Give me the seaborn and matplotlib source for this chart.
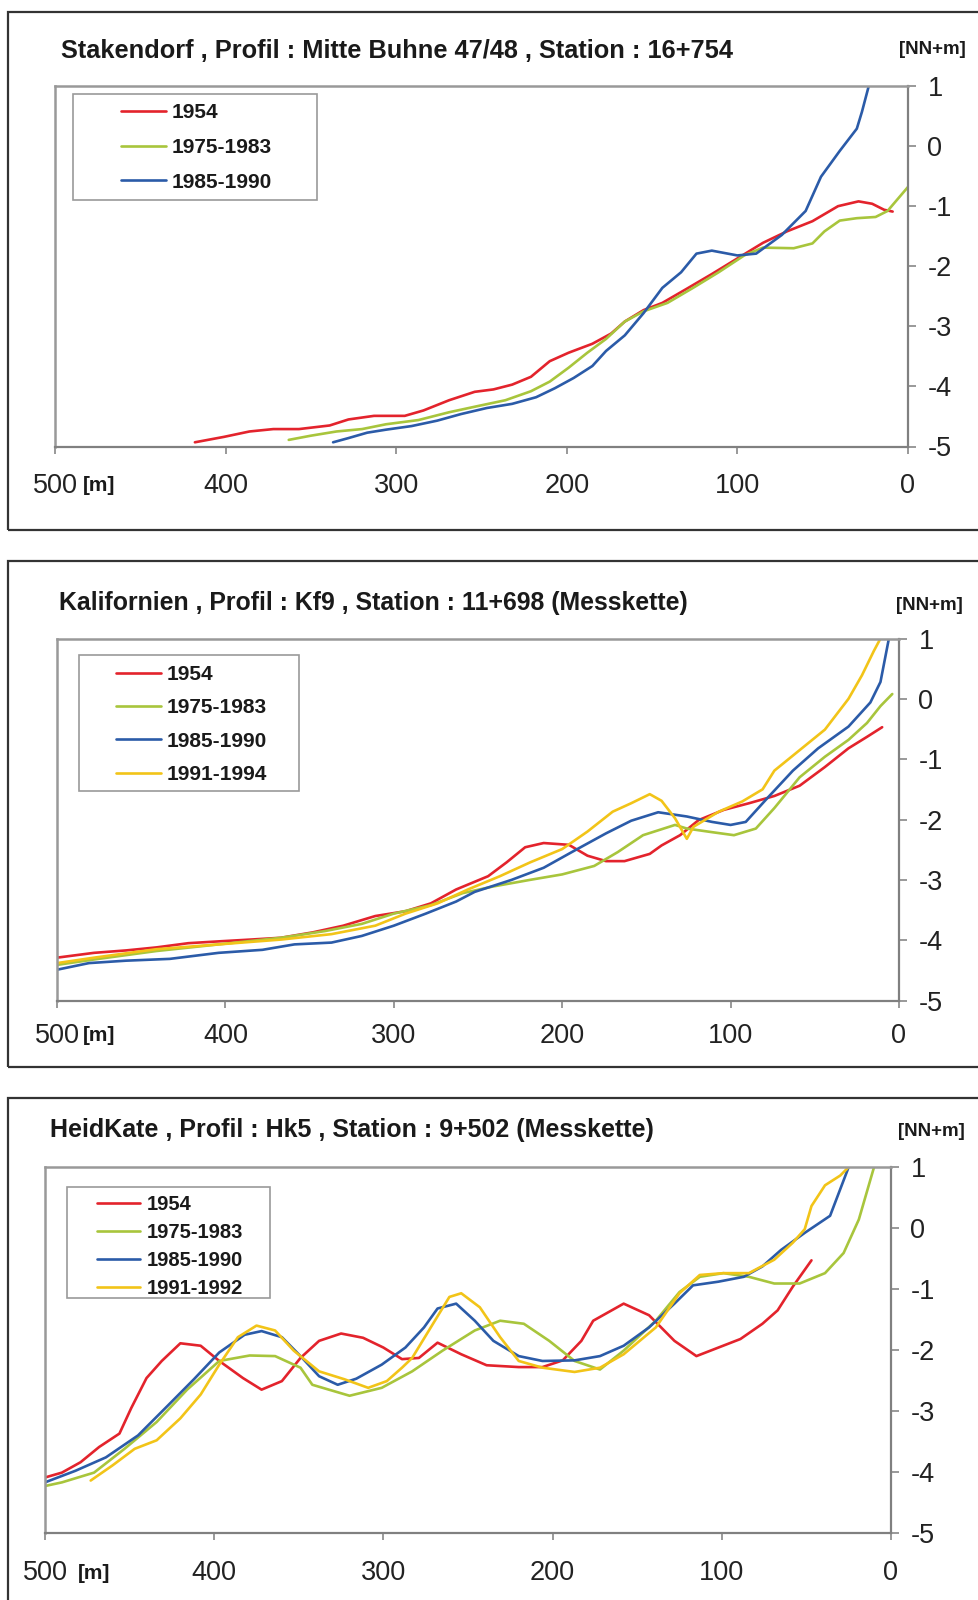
import pandas as pd
import matplotlib.pyplot as plt
import matplotlib.patches as mpatches
import seaborn as sns

W, H = 979, 1600

# ---- panel 1: Stakendorf ----
stak_1954_x = [418, 401, 386, 372, 357, 339, 328, 313, 295, 284, 269, 254, 243, 232, 221, 210, 199, 185,
               174, 166, 155, 144, 130, 115, 100, 85, 71, 56, 41, 29, 21, 14, 9]
stak_1954_y = [-4.93, -4.84, -4.75, -4.71, -4.71, -4.65, -4.55, -4.49, -4.49, -4.40, -4.23, -4.09, -4.05,
               -3.97, -3.84, -3.58, -3.44, -3.29, -3.12, -2.92, -2.73, -2.61, -2.38, -2.13, -1.87, -1.61,
               -1.42, -1.25, -1.00, -0.92, -0.96, -1.06, -1.09]
stak_7583_x = [363, 350, 335, 320, 306, 287, 269, 251, 236, 221, 210, 199, 188, 177, 166, 155, 141, 126,
               111, 96, 85, 67, 56, 49, 40, 30, 19, 12, 0]
stak_7583_y = [-4.89, -4.82, -4.75, -4.71, -4.63, -4.56, -4.43, -4.32, -4.23, -4.08, -3.92, -3.69, -3.44,
               -3.21, -2.92, -2.75, -2.61, -2.36, -2.10, -1.82, -1.69, -1.70, -1.62, -1.42, -1.24, -1.20,
               -1.18, -1.08, -0.68]
stak_8590_x = [337, 328, 317, 306, 291, 276, 262, 247, 232, 218, 207, 196, 185, 177, 166, 155, 144, 133,
               124, 115, 100, 89, 74, 60, 51, 40, 30, 27, 23]
stak_8590_y = [-4.93, -4.86, -4.77, -4.72, -4.66, -4.57, -4.46, -4.36, -4.29, -4.18, -4.03, -3.86, -3.66,
               -3.41, -3.15, -2.78, -2.36, -2.10, -1.79, -1.74, -1.82, -1.79, -1.48, -1.08, -0.51, -0.08,
               0.29, 0.57, 1.0]

# ---- panel 2: Kalifornien ----
kf_1954_x = [500, 478, 459, 441, 422, 404, 385, 367, 348, 330, 311, 293, 278, 263, 244, 233, 222, 211,
             196, 185, 174, 163, 148, 141, 130, 119, 104, 89, 74, 59, 44, 30, 19, 10]
kf_1954_y = [-4.29, -4.21, -4.17, -4.12, -4.05, -4.02, -3.99, -3.96, -3.87, -3.76, -3.60, -3.52, -3.39,
             -3.16, -2.94, -2.71, -2.46, -2.39, -2.42, -2.60, -2.69, -2.69, -2.57, -2.43, -2.26, -2.01,
             -1.84, -1.73, -1.61, -1.44, -1.13, -0.82, -0.63, -0.47]
kf_7583_x = [500, 478, 441, 404, 367, 341, 319, 300, 278, 259, 241, 219, 200, 181, 167, 152, 133, 126,
             111, 98, 85, 74, 59, 44, 30, 19, 11, 4]
kf_7583_y = [-4.41, -4.32, -4.18, -4.07, -3.96, -3.85, -3.73, -3.56, -3.42, -3.22, -3.11, -3.00, -2.91,
             -2.77, -2.54, -2.26, -2.09, -2.15, -2.21, -2.26, -2.15, -1.81, -1.30, -0.96, -0.68, -0.40,
             -0.12, 0.08]
kf_8590_x = [500, 481, 459, 433, 404, 378, 359, 337, 319, 300, 281, 263, 252, 230, 211, 193, 174, 159,
             143, 126, 111, 100, 91, 78, 63, 48, 30, 17, 11, 6]
kf_8590_y = [-4.49, -4.38, -4.34, -4.31, -4.21, -4.16, -4.07, -4.04, -3.93, -3.76, -3.56, -3.36, -3.20,
             -3.00, -2.80, -2.52, -2.23, -2.02, -1.88, -1.95, -2.04, -2.09, -2.04, -1.64, -1.19, -0.82,
             -0.46, -0.06, 0.28, 1.0]
kf_9194_x = [500, 478, 441, 404, 367, 337, 311, 293, 274, 256, 237, 219, 200, 185, 170, 159, 148, 141,
             133, 126, 122, 107, 93, 81, 74, 59, 44, 30, 22, 15, 11]
kf_9194_y = [-4.38, -4.29, -4.15, -4.07, -3.99, -3.90, -3.76, -3.56, -3.39, -3.16, -2.94, -2.71, -2.49,
             -2.20, -1.87, -1.73, -1.58, -1.69, -1.98, -2.32, -2.12, -1.87, -1.70, -1.50, -1.19, -0.85,
             -0.51, 0.00, 0.39, 0.79, 1.0]

# ---- panel 3: HeidKate ----
hk_1954_x = [500, 490, 479, 468, 456, 449, 440, 431, 420, 408, 397, 383, 372, 360, 349, 338, 325, 312,
             300, 289, 279, 268, 254, 239, 220, 206, 194, 183, 176, 158, 143, 128, 115, 102, 89, 76,
             67, 58, 47]
hk_1954_y = [-4.09, -4.01, -3.84, -3.59, -3.37, -2.95, -2.46, -2.18, -1.89, -1.93, -2.18, -2.46, -2.65,
             -2.51, -2.13, -1.85, -1.73, -1.80, -1.96, -2.15, -2.13, -1.88, -2.07, -2.25, -2.28, -2.28,
             -2.17, -1.85, -1.52, -1.24, -1.43, -1.85, -2.10, -1.96, -1.82, -1.57, -1.35, -0.96, -0.53]
hk_7583_x = [500, 490, 471, 453, 434, 416, 397, 379, 364, 349, 342, 320, 301, 283, 265, 246, 231, 217,
             202, 187, 172, 158, 139, 125, 113, 99, 84, 69, 54, 39, 28, 19, 10]
hk_7583_y = [-4.23, -4.17, -4.01, -3.62, -3.18, -2.65, -2.18, -2.09, -2.10, -2.29, -2.57, -2.75, -2.62,
             -2.35, -2.01, -1.68, -1.52, -1.57, -1.85, -2.18, -2.32, -2.01, -1.52, -1.05, -0.80, -0.74,
             -0.80, -0.91, -0.91, -0.74, -0.41, 0.14, 1.0]
hk_8590_x = [500, 482, 464, 445, 427, 412, 397, 382, 372, 360, 349, 338, 327, 316, 301, 287, 276, 268,
             257, 246, 235, 220, 206, 187, 172, 158, 143, 128, 117, 102, 87, 76, 65, 51, 36, 25]
hk_8590_y = [-4.17, -3.98, -3.76, -3.40, -2.90, -2.48, -2.04, -1.75, -1.69, -1.79, -2.10, -2.43, -2.57,
             -2.47, -2.24, -1.96, -1.63, -1.32, -1.24, -1.52, -1.85, -2.10, -2.18, -2.17, -2.10, -1.93,
             -1.63, -1.24, -0.94, -0.88, -0.80, -0.63, -0.36, -0.08, 0.20, 1.0]
hk_9192_x = [473, 460, 447, 434, 420, 408, 397, 386, 375, 364, 353, 338, 323, 309, 298, 289, 283, 272,
             261, 254, 243, 231, 220, 206, 187, 172, 158, 139, 125, 113, 99, 84, 69, 58, 51, 47, 39,
             30, 25]
hk_9192_y = [-4.14, -3.89, -3.62, -3.48, -3.12, -2.73, -2.24, -1.79, -1.60, -1.68, -2.01, -2.35, -2.48,
             -2.62, -2.51, -2.29, -2.13, -1.63, -1.13, -1.07, -1.30, -1.79, -2.18, -2.29, -2.36, -2.29,
             -2.07, -1.63, -1.07, -0.77, -0.74, -0.74, -0.52, -0.24, -0.02, 0.36, 0.70, 0.86, 1.0]

colors = {"1954": "#e3232c", "1975-1983": "#a8c53c", "1985-1990": "#2b5ba8",
          "1991-1994": "#f2c418", "1991-1992": "#f2c418"}

x_ticks = [500, 400, 300, 200, 100, 0]
x_labels = ["500", "400", "300", "200", "100", "0"]
y_ticks = [1, 0, -1, -2, -3, -4, -5]

panels = [
    dict(title="Stakendorf , Profil : Mitte Buhne 47/48 , Station : 16+754", title_fs=18.3,
         series=[("1954", stak_1954_x, stak_1954_y), ("1975-1983", stak_7583_x, stak_7583_y),
                 ("1985-1990", stak_8590_x, stak_8590_y)],
         box=(8, 12, 530), ax=(55, 86, 908, 446.5), title_xy=(61, 51), unit_xy=(932, 50),
         m_x=83, xpad=14, leg_box=(73, 94, 317, 200), leg_anchor=(121, 103), leg_fs=15, leg_sp=0.76),
    dict(title="Kalifornien , Profil : Kf9 , Station : 11+698 (Messkette)", title_fs=17.9,
         series=[("1954", kf_1954_x, kf_1954_y), ("1975-1983", kf_7583_x, kf_7583_y),
                 ("1985-1990", kf_8590_x, kf_8590_y), ("1991-1994", kf_9194_x, kf_9194_y)],
         box=(8, 561, 1067), ax=(57, 638.5, 899, 1000.5), title_xy=(59, 603), unit_xy=(929, 605),
         m_x=83, xpad=11, leg_box=(79, 655, 299, 791), leg_anchor=(116, 665), leg_fs=15, leg_sp=0.69),
    dict(title="HeidKate , Profil : Hk5 , Station : 9+502 (Messkette)", title_fs=18,
         series=[("1954", hk_1954_x, hk_1954_y), ("1975-1983", hk_7583_x, hk_7583_y),
                 ("1985-1990", hk_8590_x, hk_8590_y), ("1991-1992", hk_9192_x, hk_9192_y)],
         box=(8, 1098, 1610), ax=(45, 1167, 891, 1533), title_xy=(50, 1130), unit_xy=(931, 1132),
         m_x=78, xpad=14.5, leg_box=(67, 1187, 270, 1298), leg_anchor=(97, 1195), leg_fs=14.5, leg_sp=0.44),
]

sns.set_style("white")
plt.rcParams["font.family"] = ["Liberation Sans", "DejaVu Sans"]

fig = plt.figure(figsize=(W / 100, H / 100), dpi=100)


def fx(px):
    return px / W


def fy(py):
    return 1 - py / H


for p in panels:
    bl, bt, bb = p["box"]
    fig.add_artist(mpatches.Rectangle((fx(bl), fy(bb)), fx(W + 10 - bl), (bb - bt) / H,
                                      transform=fig.transFigure, fill=False, ec="#333333", lw=1.6))
    l, t, r, b = p["ax"]
    ax = fig.add_axes([fx(l), fy(b), (r - l) / W, (b - t) / H])

    rows = []
    for name, xs, ys in p["series"]:
        for xv, yv in zip(xs, ys):
            rows.append({"dist": xv, "elev": yv, "series": name})
    df = pd.DataFrame(rows)
    names = [s[0] for s in p["series"]]
    sns.lineplot(data=df, x="dist", y="elev", hue="series", hue_order=names,
                 palette={n: colors[n] for n in names}, estimator=None, lw=1.9, ax=ax)

    ax.set_xlim(500, 0)
    ax.set_ylim(-5, 1)
    ax.set_xlabel("")
    ax.set_ylabel("")
    ax.yaxis.tick_right()
    ax.set_xticks(x_ticks)
    ax.set_xticklabels(x_labels)
    ax.set_yticks(y_ticks)
    ax.set_yticklabels([str(v) for v in y_ticks])
    ax.tick_params(axis="x", direction="out", length=5, width=1.2, color="#888888",
                   labelsize=19.5, labelcolor="#222222", pad=p["xpad"], bottom=True)
    ax.tick_params(axis="y", direction="out", length=6, width=1.2, color="#888888",
                   labelsize=19.5, labelcolor="#222222", pad=8, right=True, left=False)
    for side in ["top", "left"]:
        ax.spines[side].set_color("#999999")
        ax.spines[side].set_linewidth(1.8)
    for side in ["bottom", "right"]:
        ax.spines[side].set_color("#808080")
        ax.spines[side].set_linewidth(1.6)

    # legend: white box plus frameless entries
    ll, lt, lr, lb = p["leg_box"]
    ax.add_artist(mpatches.Rectangle((fx(ll), fy(lb)), (lr - ll) / W, (lb - lt) / H,
                                     transform=fig.transFigure, fc="white", ec="#9a9a9a",
                                     lw=1.2, zorder=4))
    old = ax.get_legend()
    handles = old.legend_handles
    labels = [tx.get_text() for tx in old.texts]
    old.remove()
    for h in handles:
        h.set_linewidth(1.9)
    leg = ax.legend(handles, labels, loc="upper left",
                    bbox_to_anchor=(fx(p["leg_anchor"][0]), fy(p["leg_anchor"][1])),
                    bbox_transform=fig.transFigure, frameon=False, borderpad=0, borderaxespad=0,
                    handlelength=2.15, handletextpad=0.3, labelspacing=p["leg_sp"],
                    prop={"weight": "bold", "size": p["leg_fs"]})
    leg.set_zorder(5)
    for tx in leg.get_texts():
        tx.set_color("#1a1a1a")

    fig.text(fx(p["title_xy"][0]), fy(p["title_xy"][1]), p["title"], ha="left", va="center",
             fontsize=p["title_fs"], fontweight="bold", color="#1a1a1a")
    fig.text(fx(p["unit_xy"][0]), fy(p["unit_xy"][1]), "[NN+m]", ha="center", va="center",
             fontsize=13.5, fontweight="bold", color="#1a1a1a")
    lab = ax.get_xticklabels()[0]
    fig.canvas.draw()
    bbox = lab.get_window_extent()
    fig.text(fx(p["m_x"]), (bbox.y0 + bbox.height / 2) / H, "[m]",
             ha="left", va="center", fontsize=15, fontweight="bold", color="#1a1a1a")

fig.savefig("out.png", dpi=100, facecolor="white")
